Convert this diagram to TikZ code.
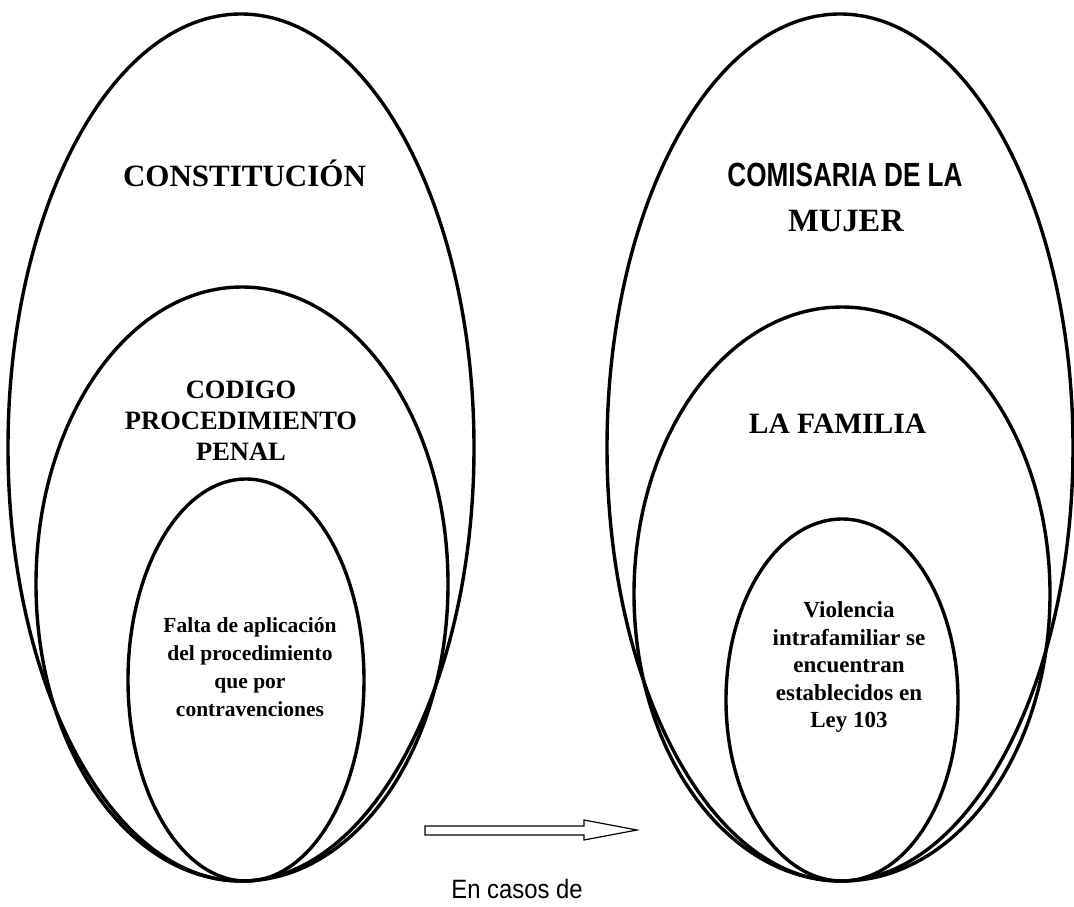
\documentclass[tikz,border=0pt]{standalone}
\usepackage{fontspec}
\setmainfont{Liberation Serif}
\newfontfamily\narrowbold[FakeStretch=0.78]{Liberation Sans}
\newfontfamily\narrowsans[FakeStretch=0.9]{Liberation Sans}
\usetikzlibrary{shapes.geometric}
\begin{document}
\begin{tikzpicture}[x=1pt,y=-1pt,
  oval/.style={draw,ellipse,line width=3.4pt,inner sep=0pt},
  lbl/.style={inner sep=0pt,align=center,font=\bfseries},
]
\useasboundingbox (0,0) rectangle (1074,907);
% left group
\node[oval,minimum width=466pt,minimum height=867pt] (lo) at (241,447.5) {};
\node[oval,minimum width=412pt,minimum height=594pt] (lm) at (242,584) {};
\node[oval,minimum width=236pt,minimum height=402pt] (li) at (246,680) {};
% right group
\node[oval,minimum width=466pt,minimum height=867pt] (ro) at (840,447.5) {};
\node[oval,minimum width=416pt,minimum height=574pt] (rm) at (842,594) {};
\node[oval,minimum width=232pt,minimum height=362pt] (ri) at (842,700) {};
% texts
\node[lbl,anchor=base,font=\bfseries\fontsize{31}{36}\selectfont] (t1) at (244.5,186) {CONSTITUCIÓN};
\node[lbl,anchor=center,font=\bfseries\fontsize{26.5}{31}\selectfont] (t2) at (241,421) {CODIGO\\PROCEDIMIENTO\\PENAL};
\node[lbl,anchor=center,font=\bfseries\fontsize{21.5}{28}\selectfont] (t3) at (250,667) {Falta de aplicación\\del procedimiento\\que por\\contravenciones};
\node[lbl,anchor=base,font=\narrowbold\bfseries\fontsize{33.5}{38}\selectfont] (t4) at (845,186) {COMISARIA DE LA};
\node[lbl,anchor=base,font=\bfseries\fontsize{32.5}{38}\selectfont] (t5) at (846,231) {MUJER};
\node[lbl,anchor=base,font=\bfseries\fontsize{29.5}{34}\selectfont] (t6) at (837.5,433) {LA FAMILIA};
\node[lbl,anchor=center,font=\bfseries\fontsize{23}{27.5}\selectfont] (t7) at (849,667) {Violencia\\intrafamiliar se\\encuentran\\establecidos en\\Ley 103};
\node[inner sep=0pt,anchor=base,font=\narrowsans\fontsize{26.5}{30}\selectfont] (t8) at (517,898) {En casos de};
% block arrow
\draw[line width=1.2pt,line join=miter] (425,826) -- (584,826) -- (584,820) -- (637,830) -- (584,840) -- (584,835) -- (425,835) -- cycle;
\end{tikzpicture}
\end{document}
